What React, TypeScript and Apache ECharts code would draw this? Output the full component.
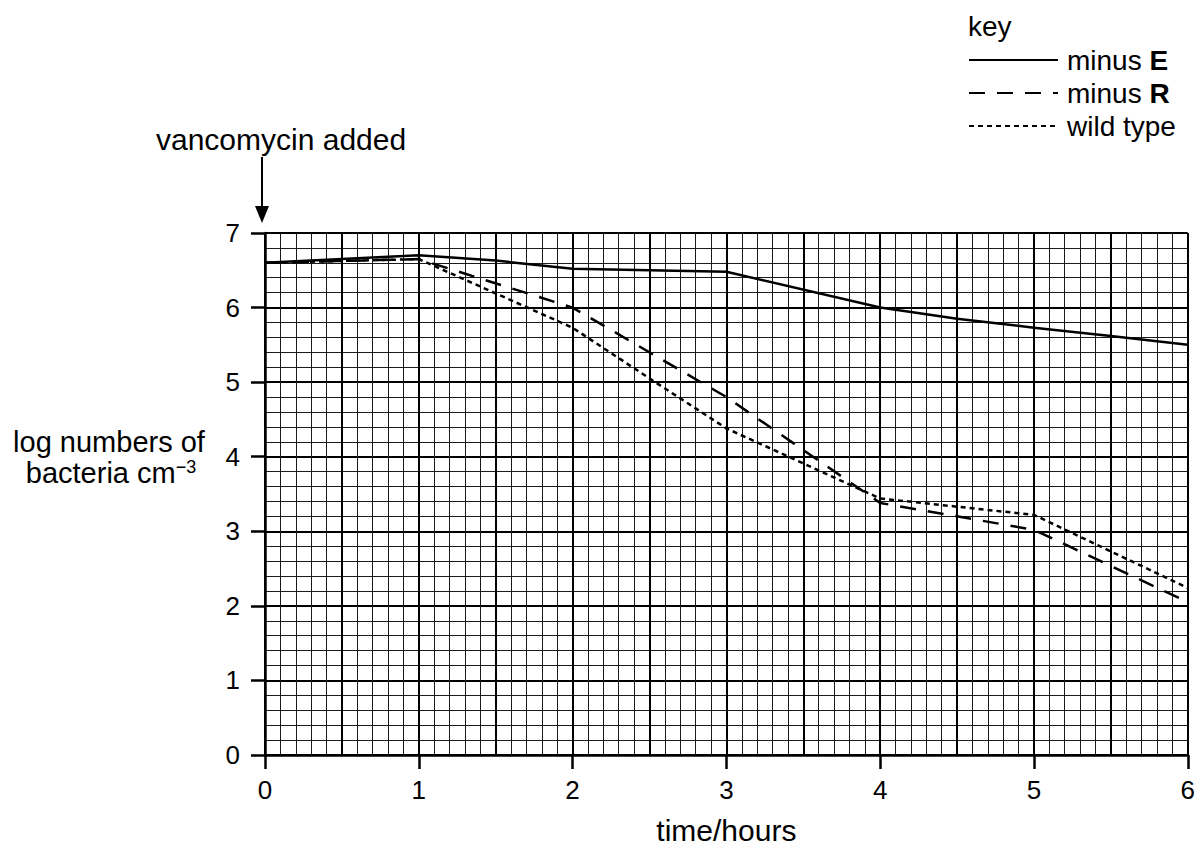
import React, { useEffect, useRef } from "react";
import * as echarts from "echarts";

// ---- data ----
const seriesNames = ["minus E", "minus R", "wild type"];

const minusETimes = [0, 1, 1.5, 2, 3, 4, 4.5, 5, 5.5, 6];
const minusEValues = [6.6, 6.7, 6.63, 6.52, 6.48, 6.0, 5.85, 5.73, 5.62, 5.5];

const minusRTimes = [0, 1, 2, 3, 4, 5, 6];
const minusRValues = [6.6, 6.65, 6.0, 4.8, 3.38, 3.02, 2.05];

const wildTimes = [0, 1, 2, 2.5, 3, 4, 5, 6];
const wildValues = [6.6, 6.65, 5.73, 5.05, 4.38, 3.44, 3.22, 2.24];

const xMin = 0;
const xMax = 6;
const yMin = 0;
const yMax = 7;

const FONT = "'Liberation Sans', Arial, Helvetica, sans-serif";

function pairs(xs: number[], ys: number[]) {
  return xs.map((x, i) => [x, ys[i]]);
}

export default function App() {
  const ref = useRef<HTMLDivElement>(null);

  useEffect(() => {
    if (!ref.current) return;
    const chart = echarts.init(ref.current, undefined, { renderer: "svg" });

    const axisLine = { show: true, onZero: false, lineStyle: { color: "#000", width: 2.5 } };
    const axisTick = { show: true, length: 14, lineStyle: { color: "#000", width: 2.5 } };

    const option: any = {
      animation: false,
      backgroundColor: "#fff",
      textStyle: { fontFamily: FONT, color: "#000" },
      grid: { left: 265, top: 233, width: 924, height: 527, containLabel: false },
      legend: {
        data: seriesNames,
        orient: "vertical",
        left: 968,
        top: 46,
        padding: 0,
        itemWidth: 89,
        itemHeight: 30,
        itemGap: 5,
        itemStyle: { opacity: 0 },
        textStyle: {
          fontSize: 28,
          color: "#000",
          fontFamily: FONT,
          padding: [0, 0, 0, 4],
          rich: {
            b: { fontSize: 28, fontWeight: "bold", color: "#000", fontFamily: FONT },
          },
        },
        formatter: (name: string) =>
          name.startsWith("minus ") ? "minus {b|" + name.slice(6) + "}" : name,
      },
      xAxis: [
        {
          type: "value",
          min: xMin,
          max: xMax,
          interval: 1,
          name: "time/hours",
          nameLocation: "middle",
          nameGap: 60,
          nameTextStyle: { fontSize: 30, color: "#000", fontFamily: FONT },
          axisLine,
          axisTick,
          axisLabel: { fontSize: 26, color: "#000", margin: 22, fontFamily: FONT },
          splitLine: { show: true, lineStyle: { color: "#000", width: 2 } },
          minorTick: { show: false, splitNumber: 10 },
          minorSplitLine: { show: true, lineStyle: { color: "#1a1a1a", width: 1 } },
        },
        {
          type: "value",
          min: xMin,
          max: xMax,
          interval: 0.5,
          position: "bottom",
          axisLine: { show: false },
          axisTick: { show: false },
          axisLabel: { show: false },
          splitLine: { show: true, lineStyle: { color: "#000", width: 2 } },
        },
      ],
      yAxis: {
        type: "value",
        min: yMin,
        max: yMax,
        interval: 1,
        axisLine,
        axisTick,
        axisLabel: { fontSize: 26, color: "#000", margin: 25, fontFamily: FONT },
        splitLine: { show: true, lineStyle: { color: "#000", width: 2 } },
        minorTick: { show: false, splitNumber: 5 },
        minorSplitLine: { show: true, lineStyle: { color: "#1a1a1a", width: 1 } },
      },
      series: [
        {
          name: seriesNames[0],
          type: "line",
          data: pairs(minusETimes, minusEValues),
          symbol: "none",
          z: 5,
          lineStyle: { color: "#000", width: 2.5, type: "solid" },
          itemStyle: { color: "#000" },
        },
        {
          name: seriesNames[1],
          type: "line",
          data: pairs(minusRTimes, minusRValues),
          symbol: "none",
          z: 5,
          lineStyle: { color: "#000", width: 2.5, type: [16, 12] },
          itemStyle: { color: "#000" },
        },
        {
          name: seriesNames[2],
          type: "line",
          data: pairs(wildTimes, wildValues),
          symbol: "none",
          z: 5,
          lineStyle: { color: "#000", width: 2.5, type: [5, 4] },
          itemStyle: { color: "#000" },
        },
      ],
      graphic: [
        {
          type: "text",
          x: 968,
          y: 26,
          style: {
            text: "key",
            fontSize: 28,
            fontFamily: FONT,
            fill: "#000",
            textAlign: "left",
            textVerticalAlign: "middle",
          },
        },
        {
          type: "text",
          x: 156,
          y: 139,
          style: {
            text: "vancomycin added",
            fontSize: 30,
            fontFamily: FONT,
            fill: "#000",
            textAlign: "left",
            textVerticalAlign: "middle",
          },
        },
        {
          type: "line",
          shape: { x1: 262, y1: 157, x2: 262, y2: 210 },
          style: { stroke: "#000", lineWidth: 2 },
        },
        {
          type: "polygon",
          shape: { points: [[255, 206], [269, 206], [262, 223]] },
          style: { fill: "#000" },
        },
        {
          type: "text",
          x: 109,
          y: 442,
          style: {
            text: "log numbers of",
            fontSize: 29,
            fontFamily: FONT,
            fill: "#000",
            textAlign: "center",
            textVerticalAlign: "middle",
          },
        },
        {
          type: "text",
          x: 111,
          y: 473,
          style: {
            text: "{n|bacteria cm}{sup|−3}",
            textAlign: "center",
            textVerticalAlign: "middle",
            fill: "#000",
            fontFamily: FONT,
            rich: {
              n: { fontSize: 29, fontFamily: FONT, fill: "#000", lineHeight: 30 },
              sup: {
                fontSize: 18,
                fontFamily: FONT,
                fill: "#000",
                lineHeight: 30,
                verticalAlign: "top",
              },
            },
          },
        },
      ],
    };

    chart.setOption(option);
    return () => chart.dispose();
  }, []);

  return (
    <div
      ref={ref}
      style={{ position: "absolute", left: 0, top: 0, width: 1198, height: 850, background: "#fff" }}
    />
  );
}
